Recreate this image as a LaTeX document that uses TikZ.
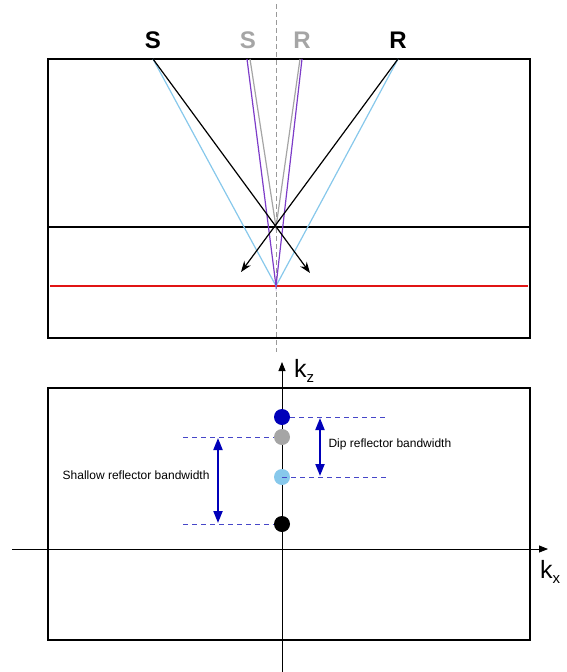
\documentclass[tikz,border=0pt]{standalone}
\usepackage{fontspec}
\setmainfont{Liberation Sans}
\usetikzlibrary{arrows.meta,positioning}

\definecolor{skyray}{RGB}{135,200,235}
\definecolor{purpray}{RGB}{125,60,200}
\definecolor{grayray}{RGB}{165,165,165}
\definecolor{refred}{RGB}{225,20,20}
\definecolor{bwblue}{RGB}{0,0,185}
\definecolor{dashblue}{RGB}{70,70,200}

\begin{document}
\begin{tikzpicture}[
x=1pt, y=-1pt,
srlabel/.style={font=\bfseries\fontsize{24}{24}\selectfont},
dot/.style={circle, inner sep=0pt, minimum size=16pt},
bwline/.style={draw=dashblue, dash pattern=on 5pt off 4pt, line width=0.8pt},
bwarrow/.style={bwblue, line width=2pt, {Triangle[length=12pt,width=9pt]}-{Triangle[length=12pt,width=9pt]}},
note/.style={font=\fontsize{12}{14}\selectfont},
>={Stealth[length=11pt,width=8pt]}
]
\useasboundingbox (0,0) rectangle (566,672);

% model section
\draw[line width=2.5pt] (48,59) rectangle (530,338);
\draw[gray!80, dash pattern=on 5pt off 3pt, line width=0.6pt] (276,4) -- (276,352);

\node[srlabel] (s1) at (153,40) {S};
\node[srlabel, text=grayray] (s2) at (248,40) {S};
\node[srlabel, text=grayray] (r2) at (302,40) {R};
\node[srlabel] (r1) at (398,40) {R};

\coordinate (src1) at (153,59);
\coordinate (src2) at (250,59);
\coordinate (rec2) at (300,59);
\coordinate (rec1) at (398,59);
\coordinate (cross) at (276,227);
\coordinate (img) at (276,286);
\coordinate (tipL) at (241,272);
\coordinate (tipR) at (310,273);
\coordinate (layL) at (48,227);
\coordinate (layR) at (530,227);
\coordinate (refL) at (50,286);
\coordinate (refR) at (528,286);

\draw[line width=2.5pt] (layL) -- (layR);
\draw[refred, line width=1.5pt] (refL) -- (refR);

\draw[skyray, line width=1.2pt] (src1) -- (img) -- (rec1);
\draw[grayray, line width=1.2pt] (src2) -- (cross) -- (rec2);
\draw[purpray, line width=1.2pt] (247,59) -- (img) -- (302,59);
\draw[->, line width=1.2pt] (src1) -- (tipR);
\draw[->, line width=1.2pt] (rec1) -- (tipL);

% wavenumber section
\draw[line width=1.5pt] (48,388) rectangle (530,640);
\coordinate (kzbot) at (282,672);
\coordinate (kztop) at (282,362);
\coordinate (kxleft) at (12,549);
\coordinate (kxright) at (548,549);
\draw[-{Triangle[length=9pt,width=7pt]}, line width=0.8pt] (kzbot) -- (kztop);
\draw[-{Triangle[length=9pt,width=7pt]}, line width=0.8pt] (kxleft) -- (kxright);
\node[font=\fontsize{25}{25}\selectfont, anchor=west, inner sep=0pt] (kz) at (294,371) {k\raisebox{-0.2em}{\fontsize{15}{15}\selectfont z}};
\node[font=\fontsize{25}{25}\selectfont, anchor=west, inner sep=0pt] (kx) at (540,572) {k\raisebox{-0.2em}{\fontsize{15}{15}\selectfont x}};

\node[dot, fill=bwblue] (dblue) at (282,417) {};
\node[dot, fill=grayray] (dgray) at (282,437) {};
\node[dot, fill=skyray] (dsky) at (282,477) {};
\node[dot, fill=black] (dblack) at (282,524) {};

\coordinate (e1) at (387,417);
\coordinate (e2) at (387,477);
\coordinate (e3) at (183,437);
\coordinate (e4) at (183,524);
\draw[bwline] (dblue.east) -- (e1);
\draw[bwline] (dsky.center) -- (e2);
\draw[bwline] (e3) -- (dgray.west);
\draw[bwline] (e4) -- (dblack.west);

\coordinate (dipT) at (320,418);
\coordinate (dipB) at (320,476);
\coordinate (shT) at (218,438);
\coordinate (shB) at (218,523);
\draw[bwarrow] (dipT) -- (dipB);
\draw[bwarrow] (shT) -- (shB);

\node[note, anchor=west] (dipnote) at (325,444) {Dip reflector bandwidth};
\node[note, anchor=east] (shnote) at (213,475) {Shallow reflector bandwidth};
\end{tikzpicture}
\end{document}
